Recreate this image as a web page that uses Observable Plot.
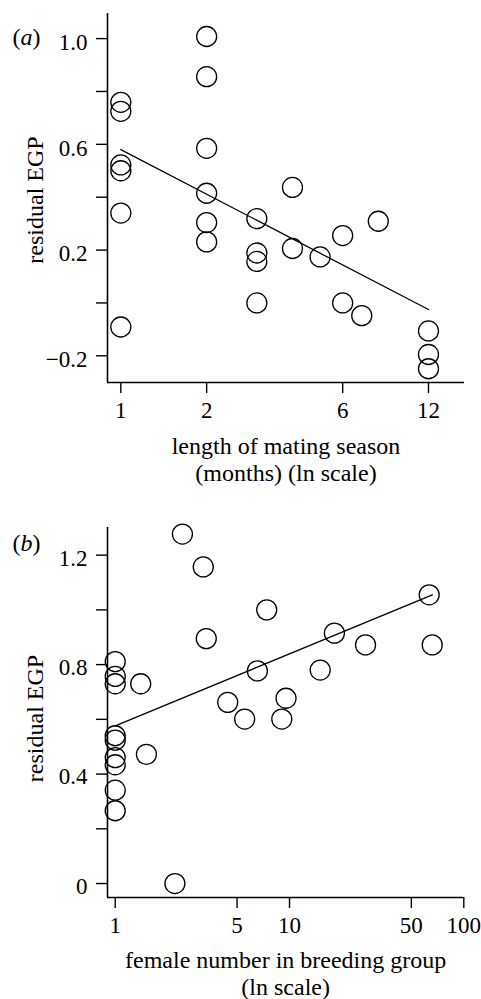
<!DOCTYPE html>
<html>
<head>
<meta charset="utf-8">
<script src="https://cdn.jsdelivr.net/npm/d3@7"></script>
<script src="https://cdn.jsdelivr.net/npm/@observablehq/plot@0.6"></script>
<style>
  html, body { margin: 0; padding: 0; background: white; }
  #chart svg { display: block; }
</style>
</head>
<body>
<div id="chart"></div>
<script>
// ---------- Panel (a): length of mating season ----------
const aMonths = [1, 1, 1, 1, 1, 1, 2, 2, 2, 2, 2, 2, 3, 3, 3, 3, 4, 4, 5, 6, 6, 7, 8, 12, 12, 12];
const aResidual = [0.759, 0.725, 0.522, 0.500, 0.340, -0.091,
                   1.008, 0.856, 0.585, 0.415, 0.304, 0.231,
                   0.319, 0.189, 0.157, 0.0,
                   0.437, 0.206, 0.174, 0.255, 0.0, -0.048, 0.309,
                   -0.106, -0.195, -0.249];
const aFitX = [1, 12];
const aFitY = [0.58, -0.025];
const aXTicks = [1, 2, 6, 12];
const aYTicks = [-0.2, 0, 0.2, 0.4, 0.6, 0.8, 1.0];
const aYLabels = [-0.2, 0.2, 0.6, 1.0];

// ---------- Panel (b): female number in breeding group ----------
const bFemales = [1, 1, 1, 1, 1, 1, 1, 1, 1, 1.40, 1.51, 2.20, 2.43, 3.20, 3.33, 4.42, 5.53, 6.54, 7.40, 9.03, 9.55, 15, 18.1, 27.3, 63.3, 65.9];
const bResidual = [0.811, 0.757, 0.730, 0.540, 0.524, 0.460, 0.434, 0.341, 0.266,
                   0.730, 0.472, 0.0, 1.277, 1.157, 0.895, 0.662, 0.601, 0.777, 1.0,
                   0.601, 0.677, 0.780, 0.915, 0.872, 1.055, 0.872];
const bFitX = [1, 66];
const bFitY = [0.576, 1.055];
const bXTicks = [1, 5, 10, 50, 100];
const bYTicks = [0, 0.2, 0.4, 0.6, 0.8, 1.0, 1.2];
const bYLabels = [0, 0.4, 0.8, 1.2];

const FONT = "'Liberation Serif', 'Times New Roman', Times, serif";
const TICK_FS = 23;
const LABEL_FS = 24;

function fmtY(d) {
  if (d === 0) return "0";
  const s = Math.abs(d).toFixed(1);
  return d < 0 ? "\u2212" + s : s;
}

function panel(cfg) {
  const xMin = cfg.xDomain[0], yMin = cfg.yDomain[0];
  return Plot.plot({
    width: 481,
    height: cfg.height,
    marginLeft: 107,
    marginRight: cfg.marginRight,
    marginTop: cfg.marginTop,
    marginBottom: cfg.marginBottom,
    style: { fontFamily: FONT, fontSize: TICK_FS + "px", color: "black", background: "white" },
    x: { type: "log", domain: cfg.xDomain, label: null },
    y: { domain: cfg.yDomain, label: null },
    marks: [
      Plot.ruleX([xMin], { stroke: "black", strokeWidth: 1.6 }),
      Plot.ruleY([yMin], { stroke: "black", strokeWidth: 1.6 }),
      Plot.axisY({ ticks: cfg.yTicks, tickSize: 11, tickFormat: () => "", label: null, strokeWidth: 1.4 }),
      Plot.axisY({ ticks: cfg.yLabels, tickSize: 0, tickPadding: 20, dy: cfg.yLabelDy, tickFormat: fmtY, label: null, fontSize: TICK_FS }),
      Plot.axisX({ ticks: cfg.xTicks, tickSize: 11, tickPadding: 8, tickFormat: d => String(d), label: null, strokeWidth: 1.4, fontSize: TICK_FS }),
      Plot.line(cfg.fitX.map((x, i) => ({ x, y: cfg.fitY[i] })), { x: "x", y: "y", stroke: "black", strokeWidth: 1.3 }),
      Plot.dot(cfg.xs, { x: cfg.xs, y: cfg.ys, r: 10, stroke: "black", strokeWidth: 1.3, fill: "none" }),
      Plot.text([cfg.xLabel], { frameAnchor: "bottom", textAnchor: "middle", lineAnchor: "top", dy: cfg.xLabelDy, fontSize: LABEL_FS, lineHeight: 1.13, fill: "black" }),
      Plot.text(["residual EGP"], { frameAnchor: "left", textAnchor: "middle", lineAnchor: "middle", rotate: -90, dx: -72.5, dy: cfg.yTitleDy, fontSize: LABEL_FS, fill: "black" }),
      Plot.text([cfg.letter], { frameAnchor: "top-left", textAnchor: "start", lineAnchor: "middle", dx: -95, dy: cfg.letterDy, fontSize: LABEL_FS, fill: "black" })
    ]
  });
}

const chartA = panel({
  height: 490, marginTop: 13, marginBottom: 108, marginRight: 17,
  xDomain: [0.898, 16.05], yDomain: [-0.301, 1.095],
  xs: aMonths, ys: aResidual, fitX: aFitX, fitY: aFitY,
  xTicks: aXTicks, yTicks: aYTicks, yLabels: aYLabels, yLabelDy: 4,
  xLabel: "length of mating season\n(months) (ln scale)", xLabelDy: 52,
  yTitleDy: 2, letter: "(a)", letterDy: 24
});
const chartB = panel({
  height: 509, marginTop: 37, marginBottom: 102, marginRight: 17.7,
  xDomain: [0.903, 100], yDomain: [-0.051, 1.301],
  xs: bFemales, ys: bResidual, fitX: bFitX, fitY: bFitY,
  xTicks: bXTicks, yTicks: bYTicks, yLabels: bYLabels, yLabelDy: 3,
  xLabel: "female number in breeding group\n(ln scale)", xLabelDy: 51,
  yTitleDy: 6, letter: "(b)", letterDy: 16
});

const root = document.getElementById("chart");
root.appendChild(chartA);
root.appendChild(chartB);

// italicise the panel letters while keeping the parentheses upright
d3.selectAll("#chart text").each(function () {
  const t = this.textContent;
  if (t === "(a)" || t === "(b)") {
    const el = d3.select(this);
    el.text(null);
    el.append("tspan").text("(");
    el.append("tspan").attr("font-style", "italic").text(t[1]);
    el.append("tspan").text(")");
  }
});
</script>
</body>
</html>
